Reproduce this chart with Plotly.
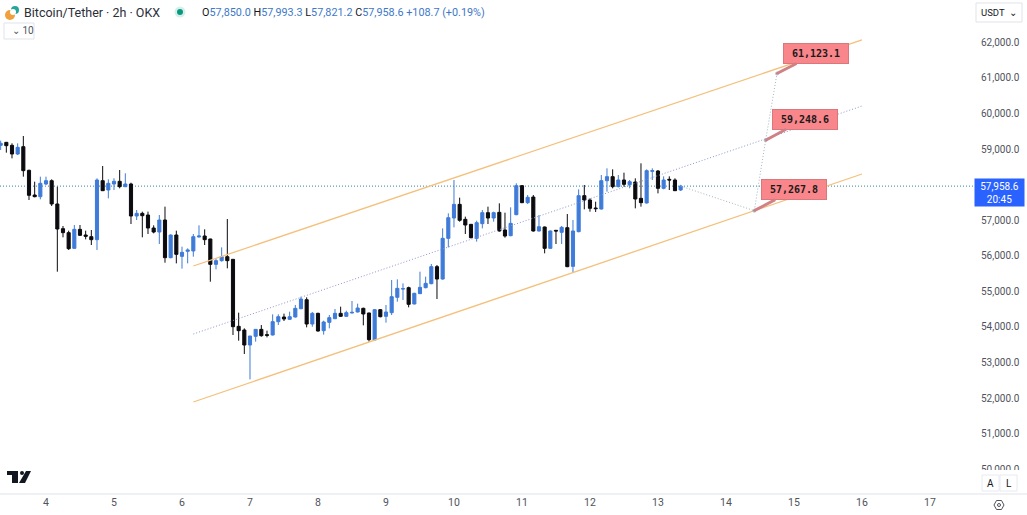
import pandas as pd
import plotly.graph_objects as go

WIDTH = 1027
HEIGHT = 515
M_RIGHT = 55
M_BOTTOM = 21

opens = [59105, 59189, 59105, 58861, 59067, 58403, 57708, 57662, 58018, 58111,
         57456, 56762, 56650, 56209, 56743, 56584, 56537, 56453, 58111, 57849,
         58018, 58093, 57943, 58018, 57118, 57193, 57146, 56781, 56668, 57006,
         55947, 56584, 55984, 56125, 56135, 56528, 56556, 56472, 55759, 55863,
         55975, 55900, 54017, 53914, 53492, 53736, 53932, 53783, 53773, 54148,
         54279, 54214, 54279, 54513, 54766, 54082, 54382, 53895, 54129, 54232,
         54382, 54298, 54392, 54420, 54523, 54392, 53633, 54485, 54298, 54401,
         54832, 55066, 55104, 54645, 54935, 55104, 55216, 55694, 55347, 56490,
         57062, 57446, 57025, 56884, 56490, 56903, 57212, 57062, 57221, 56725,
         56565, 57156, 57971, 57493, 57652, 56697, 56809, 56209, 56716, 56659,
         56790, 55703, 56678, 57690, 57568, 57343, 57315, 58111, 58224, 57943,
         58130, 57999, 58074, 57615, 57484, 58374, 58383, 57896, 58149, 58130,
         57850]
highs = [59236, 59200, 59161, 59161, 59367, 58420, 58083, 58224, 58224, 58149,
         57943, 56837, 56706, 56865, 56865, 56706, 56725, 58177, 58524, 58149,
         58177, 58411, 58318, 58055, 57287, 57240, 57240, 56856, 57146, 57381,
         56600, 56706, 56256, 56209, 56612, 56856, 56743, 56480, 55919, 56237,
         57034, 55910, 54401, 53960, 53745, 53932, 54054, 53895, 54354, 54354,
         54373, 54429, 54617, 54851, 54832, 54420, 54401, 54176, 54335, 54504,
         54570, 54457, 54729, 54654, 54542, 54400, 54504, 54504, 54617, 55319,
         55338, 55225, 55132, 54960, 55553, 55413, 55769, 55741, 56771, 57193,
         58130, 57634, 57100, 56893, 56987, 57287, 57381, 57240, 57474, 57212,
         57362, 58037, 57985, 57708, 57708, 57146, 56820, 56710, 56725, 56837,
         57174, 57006, 57868, 57990, 57615, 57521, 58271, 58458, 58430, 58271,
         58336, 58130, 58177, 58599, 58430, 58458, 58411, 58233, 58233, 58177,
         57993.3]
lows = [58974, 58899, 58739, 58833, 58224, 57568, 57643, 57587, 57990, 57399,
        55553, 56519, 56163, 56200, 56556, 56462, 56303, 56163, 57820, 57615,
        57849, 57896, 57930, 56893, 57006, 56519, 56612, 56631, 56331, 55806,
        55930, 55787, 55638, 55787, 55975, 56519, 56303, 55272, 55619, 55835,
        55647, 53773, 53614, 53239, 52527, 53586, 53726, 53708, 53760, 54054,
        54167, 54200, 54265, 54500, 53989, 54007, 53867, 53783, 53960, 54220,
        54288, 54288, 54382, 54410, 54045, 53586, 53620, 54270, 54120, 54335,
        54710, 54757, 54551, 54635, 54926, 55085, 55200, 54785, 55330, 56237,
        56800, 56959, 56612, 56490, 56397, 56771, 56893, 56959, 56678, 56509,
        56550, 57140, 57480, 57456, 56680, 56680, 56069, 56200, 56331, 56331,
        55680, 55525, 56660, 57306, 57240, 57231, 57300, 57802, 57896, 57924,
        57943, 57896, 57334, 57381, 57470, 58130, 57755, 57868, 57849, 57820,
        57821.2]
closes = [59161, 59095, 58861, 59048, 58393, 57699, 57662, 58037, 58111, 57456,
          56753, 56650, 56200, 56743, 56575, 56547, 56453, 58130, 57830, 58037,
          58093, 57943, 58018, 57118, 57193, 57127, 56781, 56668, 57006, 55947,
          56584, 56041, 56097, 56163, 56537, 56556, 56453, 55759, 55863, 55975,
          55863, 54007, 53895, 53492, 53745, 53932, 53754, 53764, 54148, 54288,
          54223, 54288, 54523, 54785, 54082, 54382, 53886, 54139, 54261, 54382,
          54298, 54401, 54410, 54532, 54364, 53642, 54485, 54288, 54420, 54851,
          55085, 55075, 54635, 54945, 55113, 55225, 55694, 55347, 56490, 57071,
          57446, 56997, 56865, 56509, 56931, 57212, 57062, 57212, 56697, 56556,
          56912, 57971, 57493, 57643, 56697, 56818, 56209, 56697, 56697, 56800,
          55694, 56697, 57690, 57568, 57334, 57325, 58111, 58224, 57943, 58130,
          58008, 58083, 57596, 57493, 58393, 58393, 57896, 58130, 58130, 57830,
          57958.6]
candle_times = pd.date_range("2024-08-03 08:00", periods=len(opens), freq="2h")

channel_times = ["2024-08-06 04:00", "2024-08-16 00:00"]
channel_upper = [55713, 62066]
channel_middle = [53801, 60210]
channel_lower = [51890, 58299]

path_times = ["2024-08-13 08:00", "2024-08-14 10:00", "2024-08-14 14:00", "2024-08-14 18:00"]
path_prices = [57958.6, 57267.8, 59248.6, 61123.1]

# 58,000 sits behind the last price tag in the reference, so it is not listed
y_ticks = [50000, 51000, 52000, 53000, 54000, 55000, 56000, 57000, 59000, 60000, 61000, 62000]
x_ticks = ["2024-08-%02d" % d for d in range(4, 18)]
x_labels = [str(d) for d in range(4, 18)]

BLUE = "#3f7bd8"
ORANGE = "#f4c07c"
TEXT = "#50535e"
LINE = "#e0e3eb"


def px(x):
    return x / (WIDTH - M_RIGHT)


def py(y):
    return 1 - y / (HEIGHT - M_BOTTOM)


def rect(x0, y0, x1, y1, fill="white", line=None, width=1):
    return dict(type="rect", xref="paper", yref="paper", x0=px(x0), x1=px(x1), y0=py(y0), y1=py(y1),
                fillcolor=fill, line=dict(color=line or fill, width=width if line else 0), layer="above")


def circle(x, y, r, fill, line=None):
    return dict(type="circle", xref="paper", yref="paper", x0=px(x - r), x1=px(x + r), y0=py(y + r), y1=py(y - r),
                fillcolor=fill, line=dict(color=line or fill, width=1 if line else 0), layer="above")


def poly(points, fill, line=None):
    path = "M " + " L ".join("%.5f,%.5f" % (px(a), py(b)) for a, b in points) + " Z"
    return dict(type="path", xref="paper", yref="paper", path=path, fillcolor=fill,
                line=dict(color=line or fill, width=1 if line else 0), layer="above")


def note(x, y, text, size=11, color=TEXT, family="Roboto", xanchor="left", **kw):
    return dict(xref="paper", yref="paper", x=px(x), y=py(y), text=text, showarrow=False, xanchor=xanchor,
                yanchor="middle", font=dict(size=size, color=color, family=family), **kw)


def target(time, price, ax, ay):
    return dict(x=time, y=price, xref="x", yref="y", text="<b>{:,.1f}</b>".format(price), showarrow=True, arrowhead=0,
                arrowwidth=3, arrowcolor="#cf8186", ax=ax, ay=ay, bgcolor="#f8868b", bordercolor="#d9777c",
                borderwidth=1, width=62, height=17, align="center",
                font=dict(size=10, color="#1a1a1a", family="DejaVu Sans Mono"))


fig = go.Figure()
for prices in (channel_upper, channel_lower):
    fig.add_trace(go.Scatter(x=channel_times, y=prices, mode="lines", line=dict(color=ORANGE, width=1.3)))
fig.add_trace(go.Scatter(x=channel_times, y=channel_middle, mode="lines",
                         line=dict(color="#8e96cc", width=1, dash="1px,2px")))
fig.add_trace(go.Candlestick(x=candle_times, open=opens, high=highs, low=lows, close=closes, whiskerwidth=0,
                             increasing=dict(line=dict(color=BLUE, width=1), fillcolor=BLUE),
                             decreasing=dict(line=dict(color="#0b0b0f", width=1), fillcolor="#0b0b0f")))
fig.add_trace(go.Scatter(x=path_times, y=path_prices, mode="lines+markers",
                         line=dict(color="#a3b5c2", width=1, dash="1px,2px"),
                         marker=dict(size=[0, 3, 3, 3], color="#7d6f78")))

shapes = [
    dict(type="line", xref="paper", yref="y", x0=0, x1=px(974), y0=closes[-1], y1=closes[-1],
         line=dict(color="#2f86a5", width=1, dash="1px,2px"), layer="below"),
    # axis line runs under the price scale too
    dict(type="line", xref="paper", yref="paper", x0=0, x1=px(WIDTH), y0=0, y1=0, line=dict(color=LINE, width=1), layer="above"),
    # the 50,000 label is cut off by the A / L panel
    rect(975, 470, WIDTH, 493),
    rect(982, 475, 999, 491, line="#e8eaf0"),
    rect(1000, 475, 1017, 491, line="#e8eaf0"),
    rect(4, 23, 34, 39, line="#e0e3eb"),
    rect(976, 3, 1022, 22, line="#e0e3eb"),
    # coin icon and market status
    circle(10, 15, 5, "#f0a03c"),
    circle(15, 10, 4, "#26a69a"),
    circle(13, 12, 3, "white"),
    circle(180, 12, 5.5, "#d5f0ea"),
    circle(180, 12, 3, "#089981"),
    # TradingView mark
    poly([(7, 471), (18, 471), (18, 483), (12, 483), (12, 475), (7, 475)], "#131722"),
    circle(22, 473, 2, "#131722"),
    poly([(26, 471), (31, 471), (25, 483), (19, 483)], "#131722"),
    # settings hexagon
    poly([(994, 505), (996.5, 500.5), (1001.5, 500.5), (1004, 505), (1001.5, 509.5), (996.5, 509.5)], "white", "#50535e"),
    circle(999, 505, 1.5, "white", "#50535e"),
]

ohlc = ("<span style='color:#131722'>O</span>57,850.0 <span style='color:#131722'>H</span>57,993.3 "
        "<span style='color:#131722'>L</span>57,821.2 <span style='color:#131722'>C</span>57,958.6 +108.7 (+0.19%)")
annotations = [
    note(22, 12, "Bitcoin/Tether · 2h · OKX", size=12.5, color="#2a2e39"),
    note(200, 12, ohlc, size=10.8, color="#3d78c9"),
    note(10, 31, "⌄ 10", size=10),
    note(979, 13, "USDT  ⌄", size=9.5, color="#131722"),
    note(990.5, 483, "A", size=10, color="#131722", xanchor="center"),
    note(1008.5, 483, "L", size=10, color="#131722", xanchor="center"),
    note(974, 192.5, "57,958.6<br>20:45", size=10, color="white", bgcolor="#2962ff", width=47, height=25, align="center"),
    target(path_times[3], path_prices[3], 39, -20),
    target(path_times[2], path_prices[2], 39, -21),
    target(path_times[1], path_prices[1], 40, -21),
]

fig.update_layout(
    width=WIDTH, height=HEIGHT, margin=dict(l=0, r=M_RIGHT, t=0, b=M_BOTTOM),
    paper_bgcolor="white", plot_bgcolor="white", showlegend=False,
    font=dict(family="Roboto", size=10.5, color=TEXT),
    boxgap=0.45, boxgroupgap=0,
    shapes=shapes, annotations=annotations,
)
fig.update_xaxes(range=["2024-08-03 07:46", "2024-08-17 14:50"], rangeslider_visible=False, showgrid=False,
                 zeroline=False, tickvals=x_ticks, ticktext=x_labels, ticks="", tickfont=dict(size=10.5, color=TEXT))
fig.update_yaxes(range=[49304, 63190], side="right", showgrid=False, zeroline=False, tickvals=y_ticks,
                 tickformat=",.1f", ticks="", ticklabelstandoff=8, tickfont=dict(size=10, color=TEXT))

fig.write_html("out.html", config=dict(displayModeBar=False),
               post_script="document.body.style.margin='0';document.body.style.overflow='hidden';")
